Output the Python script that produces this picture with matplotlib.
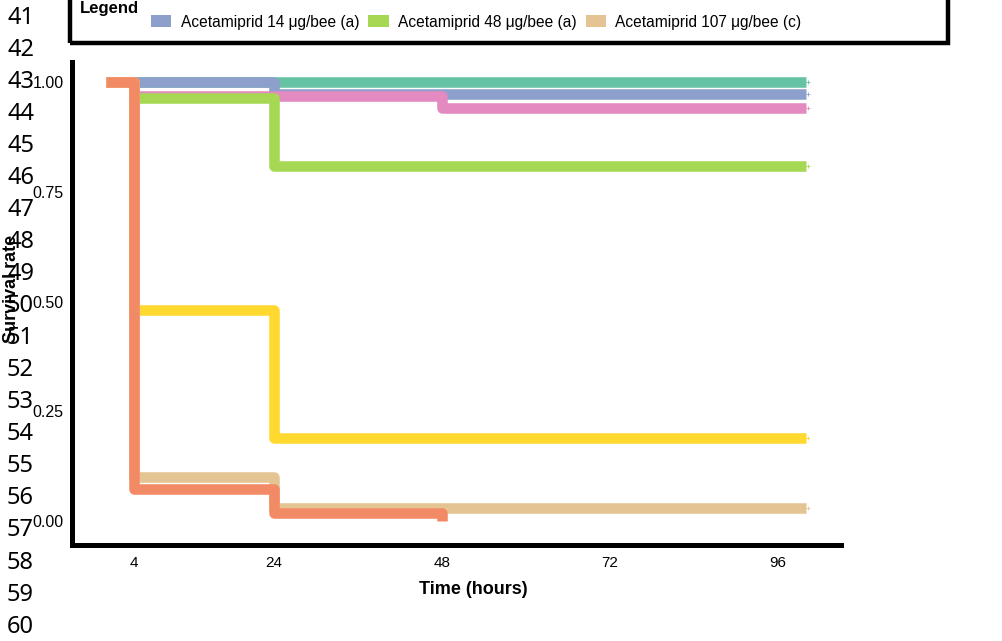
import matplotlib
matplotlib.use("Agg")
from matplotlib import pyplot as plt
from matplotlib.patches import Patch, Rectangle

# survival curves (Set2 colours), step "post" at these times
times = [0, 4, 24, 48, 100]
control = [1.0, 1.0, 1.0, 1.0, 1.0]
aceta14 = [1.0, 1.0, 0.972, 0.972, 0.972]
pink_s = [1.0, 0.968, 0.968, 0.941, 0.941]
aceta48 = [1.0, 0.965, 0.81, 0.81, 0.81]
yellow_s = [1.0, 0.48, 0.19, 0.19, 0.19]
aceta107 = [1.0, 0.10, 0.03, 0.03, 0.03]
orange_t = [0, 4, 24, 48]
orange_s = [1.0, 0.073, 0.018, 0.0]

legend_labels = ["Acetamiprid 14 μg/bee (a)", "Acetamiprid 48 μg/bee (a)",
                 "Acetamiprid 107 μg/bee (c)"]
legend_colors = ["#8DA0CB", "#A6D854", "#E5C494"]

xticks = [4, 24, 48, 72, 96]
yticks = [0.0, 0.25, 0.5, 0.75, 1.0]
line_numbers = list(range(41, 61))

plt.rcParams['font.family'] = ['Liberation Sans', 'DejaVu Sans']

fig = plt.figure(figsize=(10.02, 6.41), dpi=100)
ax = fig.add_axes([72/1002, 1 - 545/641, (841-72)/1002, (545-62)/641])

lw = 7.6
series = [
    (times, control, "#66C2A5"),
    (times, aceta14, "#8DA0CB"),
    (times, pink_s, "#E38AC0"),
    (times, aceta48, "#A6D854"),
    (times, yellow_s, "#FFD92F"),
    (times, aceta107, "#E5C494"),
    (orange_t, orange_s, "#F28B65"),
]
for t, s, c in series:
    ax.step(t, s, where='post', color=c, lw=lw,
            solid_joinstyle='round', solid_capstyle='butt')
    if t[-1] == 100:
        ax.plot([100.3], [s[-1]], marker='+', color=c, markersize=3, mew=0.6)

ax.set_xlim(-4.86, 105)
ax.set_ylim(-0.055, 1.046)
ax.set_xticks(xticks)
ax.set_xticklabels([str(x) for x in xticks], fontsize=11)
ax.set_yticks(yticks)
ax.set_yticklabels(["%.2f" % y for y in yticks], fontsize=11.5)
ax.tick_params(axis='both', length=0)
ax.tick_params(axis='x', pad=8)
ax.tick_params(axis='y', pad=6)
for side in ['top', 'right']:
    ax.spines[side].set_visible(False)
for side in ['left', 'bottom']:
    ax.spines[side].set_linewidth(3.6)
    ax.spines[side].set_color('black')

fig.text(473/1002, 1 - 590/641, "Time (hours)", fontsize=13, fontweight='bold',
         ha='center', va='center')
fig.text(12/1002, 1 - 289/641, "Survival rate", fontsize=13, fontweight='bold',
         rotation=90, ha='center', va='center')

# legend box (top cut off)
fig.patches.append(Rectangle((70/1002, 1 - 43/641), (948-70)/1002, 0.2,
                             transform=fig.transFigure, fill=False,
                             edgecolor='black', lw=3.2, clip_on=False))
fig.text(80/1002, 1 - 8/641, "Legend", fontsize=12, fontweight='bold',
         ha='left', va='center')
handles = [Patch(facecolor=c, edgecolor='none') for c in legend_colors]
fig.legend(handles, legend_labels, ncol=3, frameon=False, fontsize=11.2,
           loc='center left', bbox_to_anchor=(151/1002, 1 - 22/641),
           handlelength=1.3, handleheight=0.78, handletextpad=0.6,
           columnspacing=0.6, borderpad=0, borderaxespad=0)

# document line numbers
for i, n in enumerate(line_numbers):
    fig.text(7/1002, 1 - (24 + i*32.03)/641, str(n), fontsize=17,
             family='Noto Sans', ha='left', va='baseline')

fig.savefig("out.png", dpi=100)
